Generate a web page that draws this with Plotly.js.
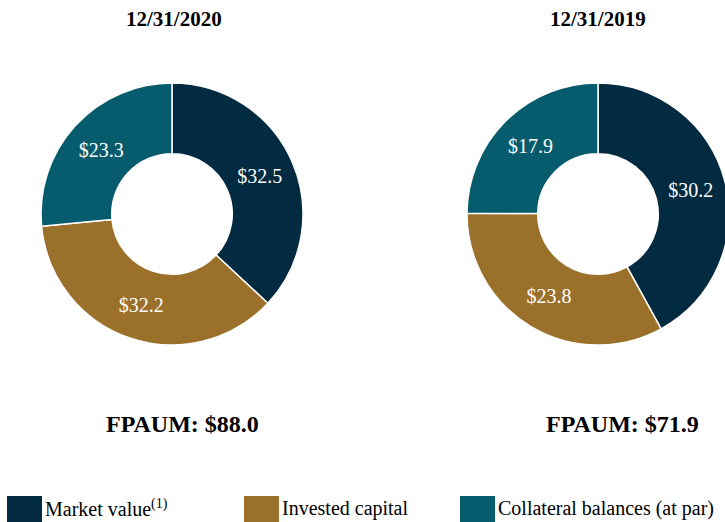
<!DOCTYPE html>
<html>
<head>
<meta charset="utf-8">
<script src="https://cdn.plot.ly/plotly-3.0.1.min.js"></script>
<style>
html, body { margin: 0; padding: 0; overflow: hidden; background: #fff; }
#chart { width: 800px; height: 522px; }
</style>
</head>
<body>
<div id="chart"></div>
<script>
// ---- data ----
const categories = ["Market value", "Invested capital", "Collateral balances (at par)"];
const legendLabels = ["Market value<sup>(1)</sup>", "Invested capital", "Collateral balances (at par)"];
const values2020 = [32.5, 32.2, 23.3];
const values2019 = [30.2, 23.8, 17.9];
const dates = ["12/31/2020", "12/31/2019"];
const totals = ["FPAUM: $88.0", "FPAUM: $71.9"];
const colors = ["#022a41", "#9b702b", "#065c6c"];

// ---- layout helpers (pixel -> paper) ----
const W = 800, H = 522;
const px = x => x / W;
const py = y => (H - y) / H;
const serif = "Liberation Serif";

function pieTrace(vals, x0, x1) {
  return {
    type: "pie",
    labels: categories,
    values: vals,
    sort: false,
    direction: "clockwise",
    rotation: 0,
    hole: 0.46,
    marker: { colors: colors, line: { color: "#ffffff", width: 1.5 } },
    texttemplate: "$%{value:.1f}",
    textposition: "inside",
    insidetextorientation: "horizontal",
    textfont: { family: serif, size: 20, color: "#ffffff" },
    showlegend: false,
    hoverinfo: "label+value",
    domain: { x: [px(x0), px(x1)], y: [py(345), py(83)] }
  };
}

const data = [
  pieTrace(values2020, 41, 303),
  pieTrace(values2019, 467, 729)
];

const annotations = [];
const shapes = [];
const titleX = [174, 598];
const totalX = [182, 622];
for (let i = 0; i < 2; i++) {
  annotations.push({
    text: "<b>" + dates[i] + "</b>", x: px(titleX[i]), y: py(19),
    xref: "paper", yref: "paper", xanchor: "center", yanchor: "middle",
    showarrow: false, font: { family: serif, size: 21, color: "#000" }
  });
  annotations.push({
    text: "<b>" + totals[i] + "</b>", x: px(totalX[i]), y: py(424),
    xref: "paper", yref: "paper", xanchor: "center", yanchor: "middle",
    showarrow: false, font: { family: serif, size: 24, color: "#000" }
  });
}

const legSq = [[7, 42], [244, 279], [460, 495]];
for (let i = 0; i < categories.length; i++) {
  shapes.push({
    type: "rect", xref: "paper", yref: "paper",
    x0: px(legSq[i][0]), x1: px(legSq[i][1]), y0: py(522), y1: py(496),
    fillcolor: colors[i], line: { width: 0 }
  });
  annotations.push({
    text: legendLabels[i], x: px(legSq[i][1] + 1), y: py(508),
    xref: "paper", yref: "paper", xanchor: "left", yanchor: "middle",
    showarrow: false, font: { family: serif, size: 20, color: "#000" }
  });
}

const layout = {
  width: W, height: H,
  margin: { l: 0, r: 0, t: 0, b: 0 },
  paper_bgcolor: "#ffffff",
  plot_bgcolor: "#ffffff",
  showlegend: false,
  annotations: annotations,
  shapes: shapes
};

Plotly.newPlot("chart", data, layout, { displayModeBar: false, staticPlot: true });
</script>
</body>
</html>
